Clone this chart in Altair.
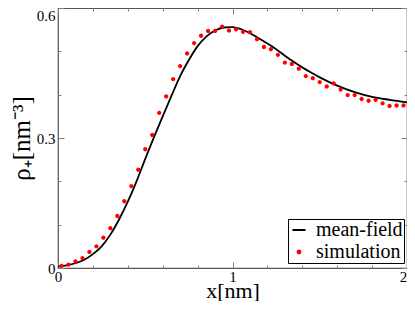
import altair as alt
import pandas as pd

# simulation points
x_sim = [0.02, 0.06, 0.10, 0.14, 0.18, 0.22, 0.26, 0.30, 0.34, 0.38,
         0.42, 0.46, 0.50, 0.54, 0.58, 0.62, 0.66, 0.70, 0.74, 0.78,
         0.82, 0.86, 0.90, 0.94, 0.98, 1.02, 1.06, 1.10, 1.14, 1.18,
         1.22, 1.26, 1.30, 1.34, 1.38, 1.42, 1.46, 1.50, 1.54, 1.58,
         1.62, 1.66, 1.70, 1.74, 1.78, 1.82, 1.86, 1.90, 1.94, 1.98]
y_sim = [0.005, 0.008, 0.015, 0.023, 0.037, 0.050, 0.070, 0.092, 0.120, 0.154,
         0.189, 0.227, 0.274, 0.307, 0.358, 0.396, 0.436, 0.466, 0.495, 0.519,
         0.536, 0.547, 0.547, 0.557, 0.548, 0.551, 0.545, 0.544, 0.528, 0.510,
         0.505, 0.492, 0.474, 0.471, 0.460, 0.443, 0.438, 0.429, 0.419, 0.426,
         0.412, 0.399, 0.399, 0.390, 0.386, 0.388, 0.380, 0.374, 0.375, 0.375]

# mean-field curve
x_mf = [0.0, 0.05, 0.1, 0.15, 0.2, 0.25, 0.3, 0.35, 0.4, 0.45, 0.5, 0.55,
        0.6, 0.65, 0.7, 0.75, 0.8, 0.85, 0.9, 0.95, 1.0, 1.05, 1.1, 1.15,
        1.2, 1.25, 1.3, 1.35, 1.4, 1.45, 1.5, 1.6, 1.7, 1.8, 1.9, 2.0]
y_mf = [0.003, 0.006, 0.011, 0.019, 0.032, 0.050, 0.077, 0.112, 0.153, 0.200,
        0.252, 0.302, 0.350, 0.397, 0.443, 0.480, 0.512, 0.534, 0.548, 0.555,
        0.556, 0.551, 0.542, 0.530, 0.518, 0.505, 0.490, 0.476, 0.463, 0.451,
        0.440, 0.421, 0.406, 0.395, 0.388, 0.382]

series_names = ["mean-field", "simulation"]
x_major = [0, 1, 2]
x_minor = [0.2, 0.4, 0.6, 0.8, 1.2, 1.4, 1.6, 1.8]
y_major = [0, 0.3, 0.6]
y_minor = [0.1, 0.2, 0.4, 0.5]

W, H = 349, 260
FONT = "Liberation Serif"
TICK = "#808080"
LBL = 15

df = pd.concat([
    pd.DataFrame({"x": x_mf, "y": y_mf, "series": series_names[0]}),
    pd.DataFrame({"x": x_sim, "y": y_sim, "series": series_names[1]}),
])

xs = alt.Scale(domain=[0, 2], nice=False, zero=False)
ys = alt.Scale(domain=[0, 0.6], nice=False, zero=False)

base = alt.Chart(df)


def tick_axis(orient, values, size, offset):
    return alt.Axis(orient=orient, values=values, tickSize=size, offset=offset,
                    labels=False, domain=False, grid=False, title=None,
                    tickColor=TICK, tickWidth=1)


def label_axis(orient, values, **kw):
    return alt.Axis(orient=orient, values=values, ticks=False, domain=False,
                    grid=False, labelFont=FONT, labelFontSize=LBL,
                    labelColor="black", format="~g", labelFlush=False, **kw)


color = alt.Color("series:N",
                  scale=alt.Scale(domain=series_names, range=["black", "red"]),
                  legend=alt.Legend(
                      title=None, orient="none", legendX=230, legendY=211,
                      strokeColor="black", padding=1, fillColor="white",
                      labelFont=FONT, labelFontSize=20, labelOffset=7,
                      symbolSize=169, symbolStrokeWidth=2,
                      labelLimit=200))
shape = alt.Shape("series:N",
                  scale=alt.Scale(domain=series_names,
                                  range=["M-1,0L1,0",
                                         "M-0.22,0A0.22,0.22,0,1,1,0.22,0A0.22,0.22,0,1,1,-0.22,0Z"]))

line = base.transform_filter(alt.datum.series == series_names[0]).mark_line(
    strokeWidth=1.8, interpolate="monotone").encode(
    x=alt.X("x:Q", scale=xs, axis=label_axis(
        "bottom", [0, 1], labelPadding=1, title="x[nm]", titleFont=FONT,
        titleFontSize=22, titleFontWeight="normal", titlePadding=-4,
        titleColor="black")),
    y=alt.Y("y:Q", scale=ys, axis=label_axis(
        "left", [0, 0.3], labelPadding=3, title="ρ₊[nm⁻³]", titleFont=FONT,
        titleFontSize=25, titleFontWeight="normal", titlePadding=2,
        titleColor="black")),
    color=color,
)

points = base.transform_filter(alt.datum.series == series_names[1]).mark_point(
    filled=True, size=380, opacity=1).encode(
    x=alt.X("x:Q", scale=xs, axis=tick_axis("top", x_major, 6, -H)),
    y=alt.Y("y:Q", scale=ys, axis=tick_axis("right", y_major, 6, -W)),
    color=color,
    shape=shape,
)


def ghost(xa, ya):
    return base.mark_point(opacity=0).encode(
        x=alt.X("x:Q", scale=xs, axis=xa),
        y=alt.Y("y:Q", scale=ys, axis=ya),
    )


g1 = ghost(tick_axis("top", x_minor, 3, -H), tick_axis("right", y_minor, 3, -W))
g2 = ghost(tick_axis("bottom", x_major, 6, -H), tick_axis("left", y_major, 6, -W))
g3 = ghost(tick_axis("bottom", x_minor, 3, -H), tick_axis("left", y_minor, 3, -W))
g4 = ghost(label_axis("bottom", [2], labelPadding=1, labelOffset=-4, title=None),
           label_axis("left", [0.6], labelPadding=3, labelOffset=7, title=None))

chart = alt.layer(line, points, g1, g2, g3, g4).resolve_axis(
    x="independent", y="independent"
).properties(
    width=W, height=H,
    autosize=alt.AutoSizeParams(type="none"),
    padding={"left": 50, "top": 0, "right": 0, "bottom": 33},
).configure_view(
    stroke="#555555", strokeWidth=1.2
)

chart.save("out.html", embed_options={"renderer": "svg", "actions": False})
